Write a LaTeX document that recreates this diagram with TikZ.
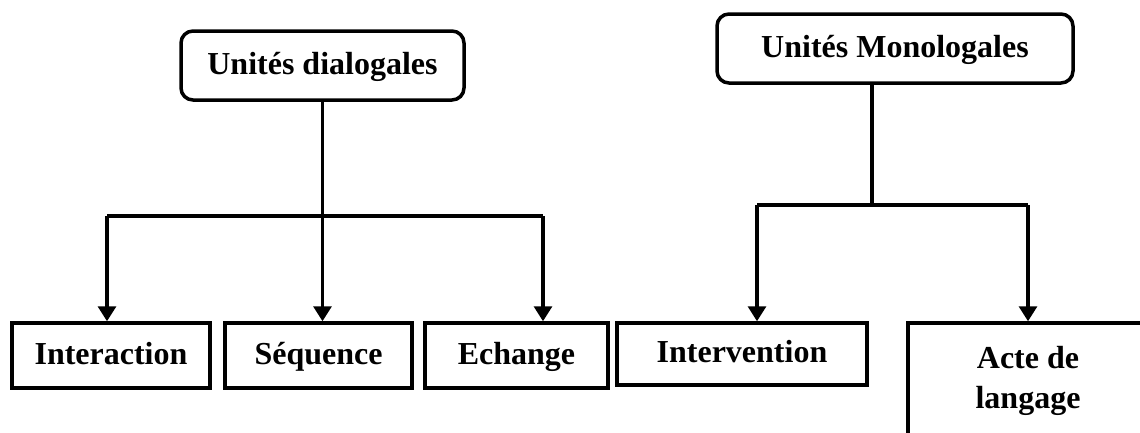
\documentclass[tikz,border=0pt]{standalone}
\usepackage{fontspec}
\setmainfont{Liberation Serif}
\usepackage{tikz}
\usetikzlibrary{arrows.meta,calc}
\tikzset{unitbox/.style={draw, line width=3.5pt, rounded corners=12pt, font=\bfseries\fontsize{32}{40}\selectfont, inner sep=0pt, text height=22pt, text depth=5pt}}
\tikzset{tallbox/.style={draw, line width=3.5pt, font=\bfseries\fontsize{32}{40}\selectfont, inner sep=0pt, align=center}}
\tikzset{leafbox/.style={tallbox, text height=22pt, text depth=5pt}}
\tikzset{link/.style={line width=3.2pt}}
\tikzset{linkarrow/.style={link, -{Triangle[length=15pt,width=18pt]}}}
\tikzset{every picture/.append style={x=1pt, y=-1pt}}

\begin{document}
\begin{tikzpicture}
  \useasboundingbox (0,0) rectangle (1140,432);
  \clip (0,0) rectangle (1140,432);
  \node (dia) at (322.5,65.5)[unitbox, minimum width=283pt, minimum height=69pt]{Unités dialogales};
  \node (mono) at (895,48.5)[unitbox, minimum width=356pt, minimum height=69pt]{Unités Monologales};

  \node (inter) at (111,355.5)[leafbox, minimum width=198pt, minimum height=65pt]{Interaction};
  \node (seq) at (318.5,355.5)[leafbox, minimum width=187pt, minimum height=65pt]{Séquence};
  \node (ech) at (516.5,355.5)[leafbox, minimum width=183pt, minimum height=65pt]{Echange};
  \node (interv) at (742,354)[leafbox, minimum width=250pt, minimum height=62pt]{Intervention};
  \node (acte) at (1028,381)[tallbox, minimum width=240pt, minimum height=116pt]{Acte de\\langage};

  \coordinate (jL) at (107,216);
  \coordinate (jR) at (543,216);
  \draw [link](jL) -- (jR);
  \draw [link](dia.south) -- (dia.south |- jL);
  \draw [linkarrow](jL) -- (jL |- inter.north);
  \draw [linkarrow](dia.south |- jL) -- (dia.south |- seq.north);
  \draw [linkarrow](jR) -- (jR |- ech.north);

  \coordinate (kL) at (757,205);
  \coordinate (kM) at (872,205);
  \coordinate (kR) at (1028,205);
  \draw [link](kL) -- (kR);
  \draw [link](kM |- mono.south) -- (kM);
  \draw [linkarrow](kL) -- (kL |- interv.north);
  \draw [linkarrow](kR) -- (kR |- acte.north);
\end{tikzpicture}
\end{document}
